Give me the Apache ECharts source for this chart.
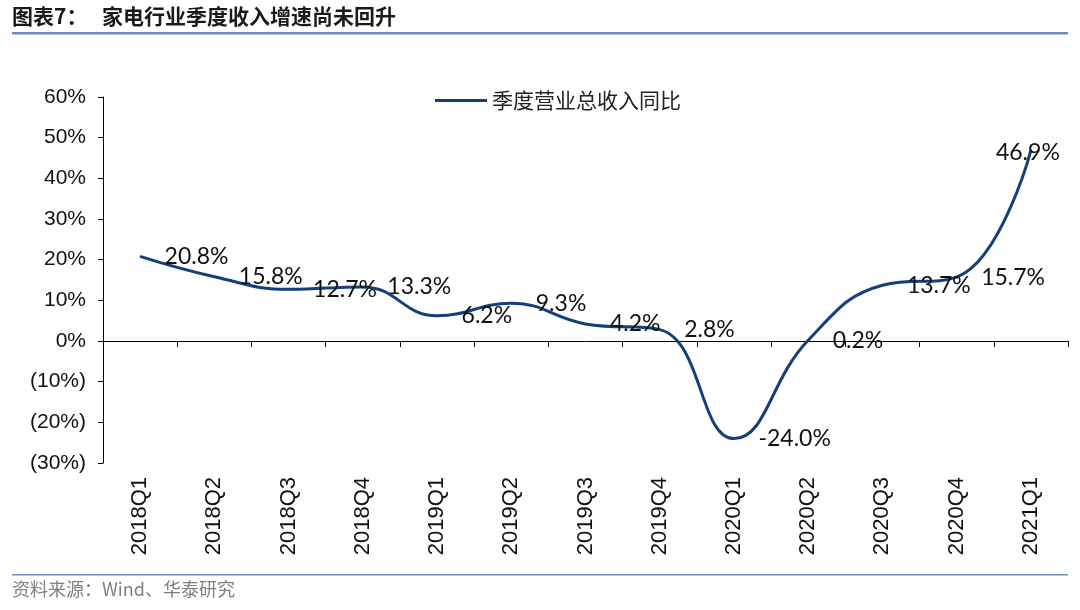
<!DOCTYPE html>
<html><head><meta charset="utf-8">
<script src="https://cdn.jsdelivr.net/npm/echarts@6/dist/echarts.min.js"></script>
<style>html,body{margin:0;padding:0;background:#fff;}#c{width:1080px;height:610px;}</style>
</head><body><div id="c"></div>
<script>
const categories = ['2018Q1','2018Q2','2018Q3','2018Q4','2019Q1','2019Q2','2019Q3','2019Q4','2020Q1','2020Q2','2020Q3','2020Q4','2021Q1'];
const growth = [20.8, 15.8, 12.7, 13.3, 6.2, 9.3, 4.2, 2.8, -24.0, 0.2, 13.7, 15.7, 46.9];
const seriesName = '季度营业总收入同比';
const titleLabel = '图表7：';
const titleText = '家电行业季度收入增速尚未回升';
const sourceText = '资料来源：Wind、华泰研究';

const chart = echarts.init(document.getElementById('c'));
const pct = v => v < 0 ? '(' + Math.abs(v) + '%)' : v + '%';
const seriesData = growth.map((v, i) => i === growth.length - 1
  ? { value: v, label: { position: 'inside', offset: [-3, 2] } }
  : v);

chart.setOption({
  animation: false,
  graphic: [
    { type: 'text', left: 12, top: 6, style: { text: titleLabel, font: 'bold 21px "Noto Sans CJK SC"', fill: '#1a1a1a' } },
    { type: 'text', left: 102, top: 6, style: { text: titleText, font: 'bold 21px "Noto Sans CJK SC"', fill: '#1a1a1a' } },
    { type: 'rect', shape: { x: 12, y: 32, width: 1056, height: 2.5 }, style: { fill: '#6b8cbd' } },
    { type: 'rect', shape: { x: 12, y: 574, width: 1056, height: 1.5 }, style: { fill: '#6b8cbd' } },
    { type: 'text', left: 12, top: 580, style: { text: sourceText, font: '18px "Noto Sans CJK SC"', fill: '#7f7f7f' } }
  ],
  legend: {
    top: 85, left: 430, icon: 'rect', itemWidth: 52, itemHeight: 3, itemGap: 8,
    textStyle: { fontFamily: 'Noto Sans CJK SC', fontSize: 21, color: '#222' },
    data: [seriesName]
  },
  grid: { left: 103, right: 12, top: 97, bottom: 147 },
  xAxis: [
    {
      type: 'category', data: categories, boundaryGap: true,
      axisLine: { onZero: true, lineStyle: { color: '#000', width: 1 } },
      axisTick: { show: true, length: 6, lineStyle: { color: '#000' } },
      axisLabel: { show: false }, splitLine: { show: false }
    },
    {
      type: 'category', data: categories, position: 'bottom', boundaryGap: true,
      axisLine: { show: false, onZero: false }, axisTick: { show: false },
      axisLabel: { rotate: 90, margin: 14, fontFamily: 'Liberation Sans', fontSize: 22, color: '#111' }
    }
  ],
  yAxis: {
    type: 'value', min: -30, max: 60, interval: 10,
    axisLine: { show: true, lineStyle: { color: '#000', width: 1 } },
    axisTick: { show: true, length: 5, lineStyle: { color: '#000' } },
    splitLine: { show: false },
    axisLabel: { formatter: pct, margin: 17, fontFamily: 'Liberation Sans', fontSize: 21, color: '#111' }
  },
  series: [{
    name: seriesName, type: 'line', data: seriesData, xAxisIndex: 0,
    smooth: 0.45, symbol: 'circle', symbolSize: 1, showSymbol: true,
    lineStyle: { color: '#133f7b', width: 3 },
    itemStyle: { color: '#133f7b' },
    label: {
      show: true, position: 'right', distance: 24,
      formatter: p => p.value.toFixed(1) + '%',
      fontFamily: 'Lato', fontSize: 23, color: '#111'
    }
  }]
});
</script></body></html>
